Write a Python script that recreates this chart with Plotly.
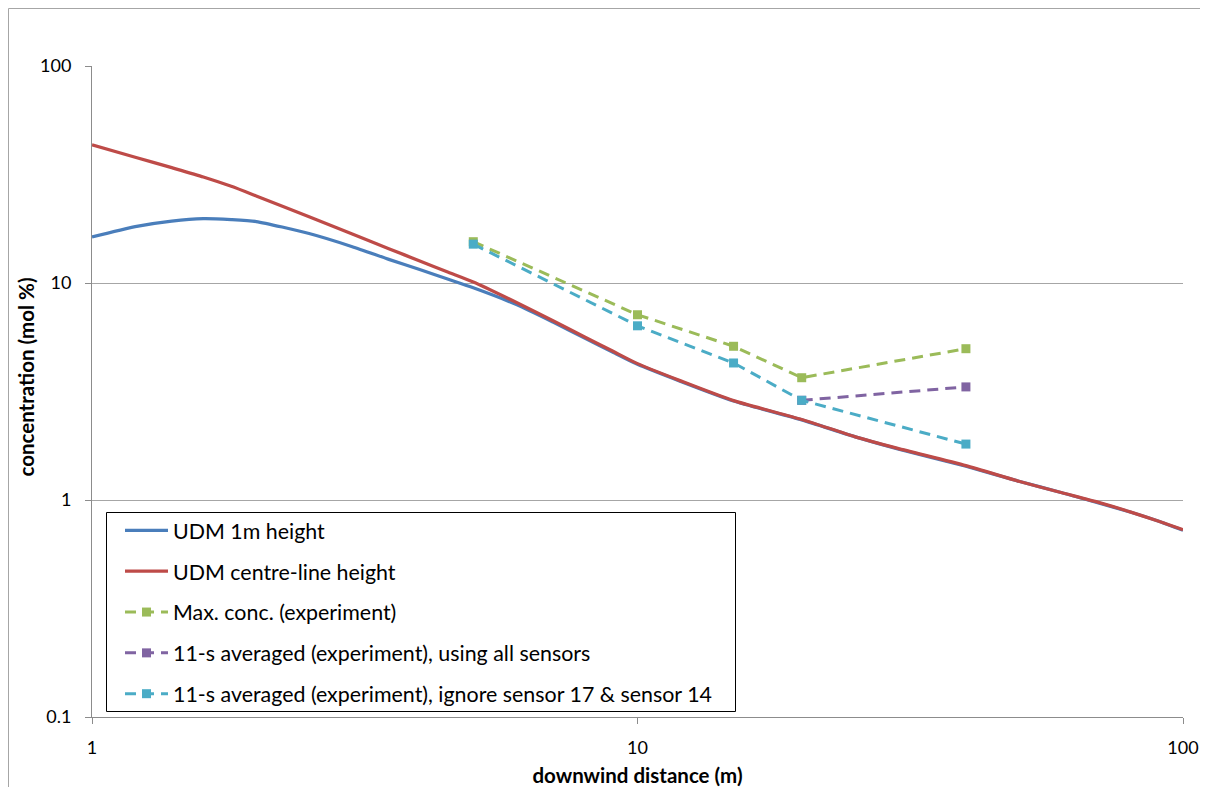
import plotly.graph_objects as go

# ---- data ----
udm_x = [1, 1.2, 1.4, 1.6, 1.8, 2, 2.5, 3, 3.5, 4, 4.5, 5, 6, 7, 8, 9, 10, 12, 15, 20, 25, 30, 40, 50, 60, 70, 80, 90, 100]
udm_1m = [16.3, 18.2, 19.3, 19.8, 19.6, 19.2, 16.9, 14.7, 12.85, 11.5, 10.4, 9.5, 7.95, 6.6, 5.57, 4.81, 4.22,
          3.52, 2.86, 2.34, 1.96, 1.72, 1.43, 1.22, 1.08, 0.97, 0.88, 0.80, 0.725]
udm_cl = [43.3, 38.0, 34.0, 30.8, 27.9, 25.2, 20.2, 16.8, 14.4, 12.6, 11.2, 10.1, 8.13, 6.7, 5.64, 4.86, 4.25,
          3.54, 2.87, 2.35, 1.96, 1.73, 1.44, 1.22, 1.08, 0.975, 0.882, 0.80, 0.73]

exp_x = [5, 10, 15, 20, 40]
max_conc = [15.5, 7.14, 5.11, 3.66, 4.98]
avg_all_x = [20, 40]
avg_all = [2.88, 3.32]
avg_ignore = [15.1, 6.35, 4.28, 2.88, 1.81]

names = ["UDM 1m height", "UDM centre-line height", "Max. conc. (experiment)",
         "11-s averaged (experiment), using all sensors",
         "11-s averaged (experiment), ignore sensor 17 & sensor 14"]
colors = ["#4A7EBB", "#BE4B48", "#9BBB59", "#8064A2", "#4BACC6"]

FONT = "Lato"
DASH = "11px,7px"

# figure geometry (page is offset by the 8px body margin)
W, H = 1200, 779
L, R, T, B = 84, 25, 58, 70
PW, PH = W - L - R, H - T - B


def px(fx):
    return (fx - L) / PW


def py(fy):
    return (H - B - fy) / PH


fig = go.Figure()
fig.add_trace(go.Scatter(x=udm_x, y=udm_1m, mode="lines", name=names[0], legendgroup="a",
                         line=dict(color=colors[0], width=3.25, shape="spline", smoothing=0.6)))
fig.add_trace(go.Scatter(x=udm_x, y=udm_cl, mode="lines", name=names[1], legendgroup="b",
                         line=dict(color=colors[1], width=3.25, shape="spline", smoothing=0.6)))
fig.add_trace(go.Scatter(x=exp_x, y=max_conc, mode="lines+markers", name=names[2], legendgroup="c",
                         line=dict(color=colors[2], width=3, dash=DASH),
                         marker=dict(symbol="square", size=9, color=colors[2])))
fig.add_trace(go.Scatter(x=avg_all_x, y=avg_all, mode="lines+markers", name=names[3], legendgroup="d",
                         line=dict(color=colors[3], width=3, dash=DASH),
                         marker=dict(symbol="square", size=9, color=colors[3])))
fig.add_trace(go.Scatter(x=exp_x, y=avg_ignore, mode="lines+markers", name=names[4], legendgroup="e",
                         line=dict(color=colors[4], width=3, dash=DASH),
                         marker=dict(symbol="square", size=9, color=colors[4])))

axis_col = "#8C8C8C"
title_font = dict(family=FONT, size=20.5, color="black")
fig.update_layout(
    width=W, height=H,
    margin=dict(l=L, r=R, t=T, b=B, pad=0, autoexpand=False),
    paper_bgcolor="white", plot_bgcolor="white",
    font=dict(family=FONT, size=18, color="black"),
    showlegend=True,
    legend=dict(x=px(112), y=py(502), xanchor="left", yanchor="top",
                borderwidth=0, bgcolor="rgba(0,0,0,0)",
                traceorder="grouped", tracegroupgap=10,
                font=dict(family=FONT, size=21.4, color="black"),
                itemwidth=43),
    xaxis=dict(type="log", range=[0, 2], showgrid=False, showline=True, linecolor=axis_col, linewidth=1,
               ticks="outside", ticklen=6, tickcolor=axis_col, tickvals=[1, 10, 100], ticktext=["1", "10", "100"],
               ticklabelstandoff=8, zeroline=False, automargin=False,
               title=dict(text="<b>downwind distance (m)</b>", standoff=13, font=title_font)),
    yaxis=dict(type="log", range=[-1, 2], showgrid=True, gridcolor="#A6A6A6", gridwidth=1,
               showline=True, linecolor=axis_col, linewidth=1,
               ticks="outside", ticklen=6, tickcolor=axis_col,
               tickvals=[0.1, 1, 10, 100], ticktext=["0.1", "1", "10", "100"],
               ticklabelstandoff=10, zeroline=False, automargin=False),
)

# y-axis title placed as rotated text
fig.add_annotation(text="<b>concentration (mol %)</b>", xref="paper", yref="paper",
                   x=px(17), y=py(369.5), xanchor="center", yanchor="middle",
                   textangle=-90, showarrow=False, font=title_font)

# outer chart frame
fig.add_shape(type="rect", xref="paper", yref="paper",
              x0=px(0.5), x1=px(1198), y0=py(800), y1=py(0.5),
              line=dict(color="#A6A6A6", width=1), fillcolor="rgba(0,0,0,0)", layer="below")
# legend box
fig.add_shape(type="rect", xref="paper", yref="paper",
              x0=px(98.5), x1=px(727.5), y0=py(703.5), y1=py(504.5),
              line=dict(color="black", width=1), fillcolor="white", layer="above")

fig.write_html("out.html")
